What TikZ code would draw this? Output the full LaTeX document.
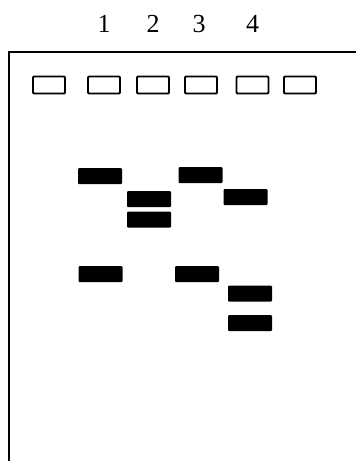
\documentclass[tikz,border=0pt]{standalone}
\usepackage{fontspec}
\setmainfont{Liberation Serif}
\usetikzlibrary{positioning}

\begin{document}
\begin{tikzpicture}[x=1pt, y=-1pt,
well/.style={draw, line width=1.8pt, rounded corners=1pt, minimum width=32pt, minimum height=17pt, inner sep=0pt},
band/.style={fill=black, rounded corners=1pt, minimum width=44pt, minimum height=16pt, inner sep=0pt},
lane/.style={font=\fontsize{26}{26}\selectfont, inner sep=0pt}]
%
\useasboundingbox (0,0) rectangle (356,461);
% gel frame
\draw[line width=1.8pt] (9,461) -- (9,52) -- (356,52);
% wells
\node[well] (w1) at (49,85) {};
\node[well] (w2) at (104,85) {};
\node[well] (w3) at (153,85) {};
\node[well] (w4) at (201,85) {};
\node[well] (w5) at (252.5,85) {};
\node[well] (w6) at (300,85) {};
% lane numbers
\node[lane, above=43pt of w2] (lab1) {1};
\node[lane, above=43pt of w3] (lab2) {2};
\node[lane, above=43pt of w4, xshift=-2pt] (lab3) {3};
\node[lane, above=43pt of w5] (lab4) {4};
% bands
\node[band] (b1a) at (100,176) {};
\node[band] (b1b) at (100.5,274) {};
\node[band] (b2a) at (149,199) {};
\node[band] (b2b) at (149,219.5) {};
\node[band] (b3a) at (200.5,175) {};
\node[band] (b3b) at (197,274) {};
\node[band] (b4a) at (245.5,197) {};
\node[band] (b4b) at (250,293.5) {};
\node[band] (b4c) at (250,323) {};
\end{tikzpicture}
\end{document}
